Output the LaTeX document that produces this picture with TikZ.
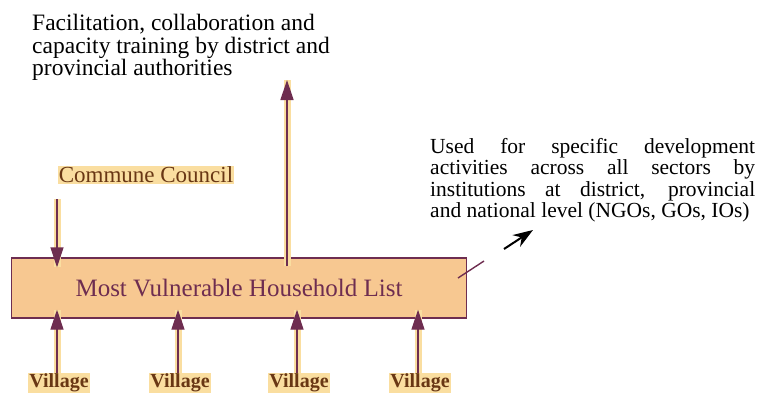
\documentclass[tikz,border=0pt]{standalone}
\usepackage{fontspec}
\setmainfont{Liberation Serif}
\usetikzlibrary{arrows.meta,positioning}

\definecolor{plum}{RGB}{110,45,80}
\definecolor{peach}{RGB}{247,200,145}
\definecolor{glow}{RGB}{250,222,160}
\definecolor{umber}{RGB}{105,55,20}

\begin{document}
\begin{tikzpicture}[
    x = 1pt, y = -1pt, % pixel grid, y runs down
    flow/.style = {-{Triangle[length=20pt,width=13pt]}, plum, line width=1.4pt,
                   preaction={draw=glow, line width=7pt, -}},
    tag/.style = {text=umber, fill=glow, inner sep=1pt,
                  font=\fontsize{23}{25}\selectfont},
    note/.style = {inner sep=0pt, font=\fontsize{23.5}{22.5}\selectfont}
    ]

    \useasboundingbox (0,0) rectangle (759,394);

    \tikzset{box/.style={
    draw = plum,
    line width = 1.4pt,
    fill = peach,
    text = plum,
    minimum width = 455pt,
    minimum height = 60pt,
    font = \fontsize{25}{27}\selectfont
    }}
    \node[box] (mvhl) at (239,288) {Most Vulnerable Household List};
    \node[tag] (cc) at (146,175) {Commune Council};
    \node[tag, font=\bfseries\fontsize{20}{22}\selectfont] (v1) at (59,383) {Village};
    \node[tag, font=\bfseries\fontsize{20}{22}\selectfont] (v2) at (180,383) {Village};
    \node[tag, font=\bfseries\fontsize{20}{22}\selectfont] (v3) at (299,383) {Village};
    \node[tag, font=\bfseries\fontsize{20}{22}\selectfont] (v4) at (420,383) {Village};
    \node[note, anchor=north west, align=left] (fac) at (32,14)
        {Facilitation, collaboration and\\
         capacity training by district and\\
         provincial authorities};
    \node[note, font=\fontsize{21.5}{21.5}\selectfont, anchor=north west,
          text width=325pt, align=justify] (used) at (430,138)
        {\parfillskip=0pt Used for specific development\linebreak
         activities across all sectors by\linebreak
         institutions at district, provincial\linebreak
         and national level (NGOs, GOs, IOs)};

    \coordinate (uptip) at (287,80);
    \coordinate (cut1) at (458,278);
    \coordinate (cut2) at (484,261);
    \coordinate (pt1) at (504,249);
    \coordinate (pt2) at (533,230);

    \draw[flow, shorten <=-9pt] (uptip |- mvhl.north) -- (uptip);
    \draw[flow, shorten >=-10pt] ([xshift=-2pt,yshift=-15pt]v1.north |- cc.south) -- ([xshift=-2pt]v1.north |- mvhl.north);
    \foreach \v in {v1,v2,v3,v4}
        \draw[flow, shorten >=-9pt] ([xshift=-2pt]\v.north) -- ([xshift=-2pt]\v.north |- mvhl.south);
    \draw[plum, line width=1.4pt] (cut1) -- (cut2);
    \draw[-{Stealth[length=20pt,width=14pt]}, line width=2pt] (pt1) -- (pt2);
\end{tikzpicture}
\end{document}
